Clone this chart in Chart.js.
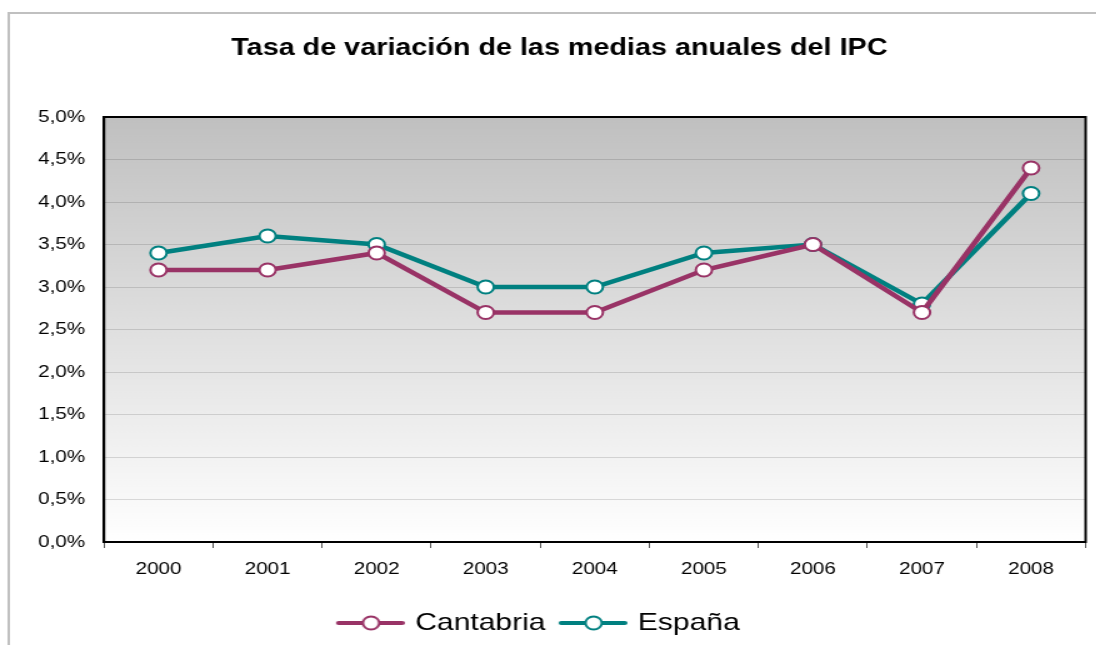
<!DOCTYPE html>
<html>
<head>
<meta charset="utf-8">
<script src="https://cdn.jsdelivr.net/npm/chart.js@4/dist/chart.umd.min.js"></script>
<style>
  html, body { margin: 0; padding: 0; background: #fff; overflow: hidden; }
  #wrap { width: 1096px; height: 645px; overflow: hidden; }
  #c { display: block; transform: scaleX(1.25); transform-origin: 0 0; }
</style>
</head>
<body>
<div id="wrap"><canvas id="c" width="877" height="645"></canvas></div>
<script>
const categories = ['2000', '2001', '2002', '2003', '2004', '2005', '2006', '2007', '2008'];
const cantabria = [3.2, 3.2, 3.4, 2.7, 2.7, 3.2, 3.5, 2.7, 4.4];
const espana = [3.4, 3.6, 3.5, 3.0, 3.0, 3.4, 3.5, 2.8, 4.1];
const yTickLabels = ['0,0%', '0,5%', '1,0%', '1,5%', '2,0%', '2,5%', '3,0%', '3,5%', '4,0%', '4,5%', '5,0%'];
const titleText = 'Tasa de variación de las medias anuales del IPC';
const seriesNames = ['Cantabria', 'España'];
const seriesColors = ['#993366', '#008080'];

const FONT = "'Liberation Sans', Arial, sans-serif";

function legendIcon(color) {
  const cv = document.createElement('canvas');
  cv.width = 58; cv.height = 18;
  const g = cv.getContext('2d');
  g.strokeStyle = color; g.lineWidth = 4; g.lineCap = 'round';
  g.beginPath(); g.moveTo(5, 9); g.lineTo(56, 9); g.stroke();
  g.beginPath(); g.arc(31, 9, 6.5, 0, Math.PI * 2);
  g.fillStyle = '#fff'; g.fill();
  g.lineWidth = 2; g.stroke();
  return cv;
}
const icons = seriesColors.map(legendIcon);

const framePlugin = {
  id: 'frame',
  afterLayout(chart) {
    const t = chart.titleBlock;
    if (t) { t.left += 9; t.right += 9; t.top += 2; t.bottom += 2; }
    const l = chart.legend;
    if (l) { l.left -= 8; l.right -= 8; }
  },
  beforeDraw(chart) {
    const ctx = chart.ctx, a = chart.chartArea;
    ctx.save();
    ctx.strokeStyle = '#c0c0c0';
    ctx.lineWidth = 2;
    ctx.beginPath();
    ctx.moveTo(7, 700); ctx.lineTo(7, 13); ctx.lineTo(900, 13);
    ctx.stroke();
    const grad = ctx.createLinearGradient(0, a.top, 0, a.bottom);
    grad.addColorStop(0, '#c0c0c0');
    grad.addColorStop(1, '#ffffff');
    ctx.fillStyle = grad;
    ctx.fillRect(a.left, a.top, a.right - a.left, a.bottom - a.top);
    ctx.restore();
  },
  beforeDatasetsDraw(chart) {
    const ctx = chart.ctx, a = chart.chartArea;
    ctx.save();
    ctx.strokeStyle = '#000';
    ctx.lineWidth = 2;
    ctx.strokeRect(a.left, a.top, a.right - a.left, a.bottom - a.top);
    ctx.restore();
  }
};

function ds(name, values, color) {
  return {
    label: name, data: values,
    borderColor: color, backgroundColor: '#fff',
    borderWidth: 4.5, pointRadius: 6.5, pointBorderWidth: 2,
    pointBackgroundColor: '#fff', pointBorderColor: color,
    tension: 0
  };
}

new Chart(document.getElementById('c'), {
  type: 'line',
  data: {
    labels: categories,
    datasets: [
      ds(seriesNames[0], cantabria, seriesColors[0]),
      ds(seriesNames[1], espana, seriesColors[1])
    ]
  },
  options: {
    responsive: false,
    animation: false,
    devicePixelRatio: 1,
    layout: { padding: { left: 7.4, right: 7.4, top: 12, bottom: 0 } },
    plugins: {
      title: {
        display: true, text: titleText, color: '#000',
        font: { family: FONT, size: 23, weight: 'bold' },
        padding: { top: 21, bottom: 56.4 }
      },
      legend: {
        position: 'bottom',
        labels: {
          usePointStyle: true, pointStyleWidth: 51,
          color: '#000', padding: 11,
          font: { family: FONT, size: 24 },
          generateLabels(chart) {
            const items = Chart.defaults.plugins.legend.labels.generateLabels(chart);
            items.forEach((it) => { it.pointStyle = icons[it.datasetIndex]; });
            return items;
          }
        }
      },
      tooltip: { enabled: false }
    },
    scales: {
      x: {
        offset: true,
        grid: { offset: true, drawOnChartArea: false, drawTicks: true, tickLength: 6, color: '#555' },
        border: { display: true, color: '#000', width: 2 },
        ticks: { color: '#000', padding: 12, font: { family: FONT, size: 16.5 } },
        afterFit(s) { s.height = 58; }
      },
      y: {
        min: 0, max: 5,
        grid: { color: 'rgba(0,0,0,0.13)', drawTicks: false, lineWidth: 1 },
        border: { display: true, color: '#000', width: 2 },
        ticks: {
          stepSize: 0.5, color: '#000', padding: 15,
          font: { family: FONT, size: 16.5 },
          callback(v) { return yTickLabels[Math.round(v * 2)]; }
        },
        afterFit(s) { s.width = 75.8; }
      }
    }
  },
  plugins: [framePlugin]
});
</script>
</body>
</html>
